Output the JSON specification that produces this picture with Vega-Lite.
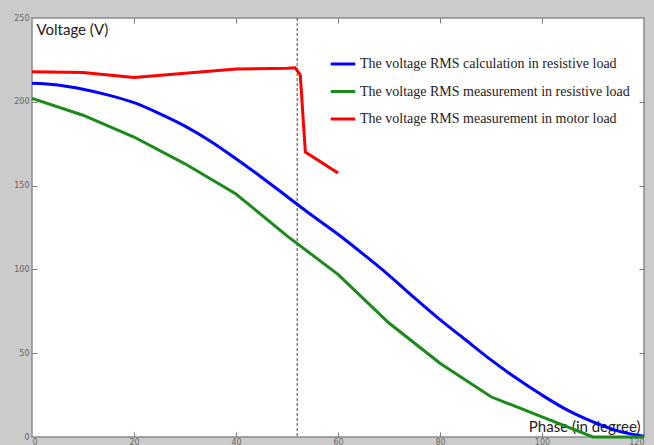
{
  "$schema": "https://vega.github.io/schema/vega-lite/v6.json",
  "width": 612,
  "height": 419,
  "autosize": {"type": "none"},
  "padding": {"left": 32, "top": 18, "right": 10, "bottom": 8},
  "background": "#cbcbcb",
  "config": {
    "view": {"fill": "white", "stroke": "#8a8a8a", "strokeWidth": 1.5},
    "axis": {"grid": false, "domain": false, "labelFont": "DejaVu Sans", "labelFontSize": 8, "labelColor": "#666666", "tickColor": "#7a7a7a", "tickSize": 5, "tickWidth": 1}
  },
  "datasets": {
    "series": [
      {"phase": 0, "voltage": 211, "series": "The voltage RMS calculation in resistive load"},
      {"phase": 5, "voltage": 210, "series": "The voltage RMS calculation in resistive load"},
      {"phase": 10, "voltage": 207.5, "series": "The voltage RMS calculation in resistive load"},
      {"phase": 15, "voltage": 204, "series": "The voltage RMS calculation in resistive load"},
      {"phase": 20, "voltage": 199.5, "series": "The voltage RMS calculation in resistive load"},
      {"phase": 25, "voltage": 193, "series": "The voltage RMS calculation in resistive load"},
      {"phase": 30, "voltage": 185.5, "series": "The voltage RMS calculation in resistive load"},
      {"phase": 35, "voltage": 176.5, "series": "The voltage RMS calculation in resistive load"},
      {"phase": 40, "voltage": 166, "series": "The voltage RMS calculation in resistive load"},
      {"phase": 45, "voltage": 155, "series": "The voltage RMS calculation in resistive load"},
      {"phase": 50, "voltage": 143.5, "series": "The voltage RMS calculation in resistive load"},
      {"phase": 55, "voltage": 132, "series": "The voltage RMS calculation in resistive load"},
      {"phase": 60, "voltage": 121, "series": "The voltage RMS calculation in resistive load"},
      {"phase": 65, "voltage": 109, "series": "The voltage RMS calculation in resistive load"},
      {"phase": 70, "voltage": 96.5, "series": "The voltage RMS calculation in resistive load"},
      {"phase": 75, "voltage": 83, "series": "The voltage RMS calculation in resistive load"},
      {"phase": 80, "voltage": 70, "series": "The voltage RMS calculation in resistive load"},
      {"phase": 85, "voltage": 58, "series": "The voltage RMS calculation in resistive load"},
      {"phase": 90, "voltage": 46, "series": "The voltage RMS calculation in resistive load"},
      {"phase": 95, "voltage": 35, "series": "The voltage RMS calculation in resistive load"},
      {"phase": 100, "voltage": 25, "series": "The voltage RMS calculation in resistive load"},
      {"phase": 105, "voltage": 16, "series": "The voltage RMS calculation in resistive load"},
      {"phase": 110, "voltage": 9, "series": "The voltage RMS calculation in resistive load"},
      {"phase": 115, "voltage": 3.5, "series": "The voltage RMS calculation in resistive load"},
      {"phase": 120, "voltage": 0.5, "series": "The voltage RMS calculation in resistive load"},
      {"phase": 0, "voltage": 202, "series": "The voltage RMS measurement in resistive load"},
      {"phase": 10, "voltage": 192, "series": "The voltage RMS measurement in resistive load"},
      {"phase": 20, "voltage": 179, "series": "The voltage RMS measurement in resistive load"},
      {"phase": 30, "voltage": 163, "series": "The voltage RMS measurement in resistive load"},
      {"phase": 40, "voltage": 145, "series": "The voltage RMS measurement in resistive load"},
      {"phase": 50, "voltage": 120, "series": "The voltage RMS measurement in resistive load"},
      {"phase": 60, "voltage": 97, "series": "The voltage RMS measurement in resistive load"},
      {"phase": 70, "voltage": 68, "series": "The voltage RMS measurement in resistive load"},
      {"phase": 80, "voltage": 44, "series": "The voltage RMS measurement in resistive load"},
      {"phase": 90, "voltage": 24, "series": "The voltage RMS measurement in resistive load"},
      {"phase": 100, "voltage": 12, "series": "The voltage RMS measurement in resistive load"},
      {"phase": 110, "voltage": 0, "series": "The voltage RMS measurement in resistive load"},
      {"phase": 120, "voltage": 0, "series": "The voltage RMS measurement in resistive load"},
      {"phase": 0, "voltage": 218, "series": "The voltage RMS measurement in motor load"},
      {"phase": 10, "voltage": 217.5, "series": "The voltage RMS measurement in motor load"},
      {"phase": 20, "voltage": 214.5, "series": "The voltage RMS measurement in motor load"},
      {"phase": 30, "voltage": 217, "series": "The voltage RMS measurement in motor load"},
      {"phase": 40, "voltage": 219.5, "series": "The voltage RMS measurement in motor load"},
      {"phase": 50, "voltage": 220, "series": "The voltage RMS measurement in motor load"},
      {"phase": 51.6, "voltage": 220.3, "series": "The voltage RMS measurement in motor load"},
      {"phase": 52.6, "voltage": 216, "series": "The voltage RMS measurement in motor load"},
      {"phase": 53.6, "voltage": 170, "series": "The voltage RMS measurement in motor load"},
      {"phase": 60, "voltage": 157.5, "series": "The voltage RMS measurement in motor load"}
    ],
    "marker": [{"phase": 52}]
  },
  "resolve": {"axis": {"x": "independent", "y": "independent"}},
  "layer": [
    {
      "data": {"name": "marker"},
      "mark": {"type": "rule", "color": "#444444", "strokeDash": [3, 2], "strokeWidth": 1},
      "encoding": {
        "x": {"field": "phase", "type": "quantitative", "scale": {"domain": [0, 120], "nice": false}, "axis": null}
      }
    },
    {
      "data": {"name": "series"},
      "transform": [{"filter": "datum.series === 'The voltage RMS calculation in resistive load'"}],
      "mark": {"type": "line", "strokeWidth": 3, "interpolate": "monotone"},
      "encoding": {
        "x": {"field": "phase", "type": "quantitative", "scale": {"domain": [0, 120], "nice": false},
          "axis": {"values": [0, 20, 40, 60, 80, 100, 120], "ticks": false, "labelPadding": 1, "title": "Phase (in degree)", "titleFont": "Lato", "titleFontSize": 15, "titleFontWeight": "normal", "titleColor": "#222222", "titleAnchor": "end", "titleAlign": "right", "titleX": 608, "titleY": -6, "titleBaseline": "alphabetic"}},
        "y": {"field": "voltage", "type": "quantitative", "scale": {"domain": [0, 250], "nice": false},
          "axis": {"values": [0, 50, 100, 150, 200, 250], "ticks": false, "labelPadding": 3, "title": "Voltage (V)", "titleFont": "Lato", "titleFontSize": 15, "titleFontWeight": "normal", "titleColor": "#222222", "titleAngle": 0, "titleAlign": "left", "titleAnchor": "start", "titleX": 4, "titleY": 4, "titleBaseline": "top"}},
        "color": {"field": "series", "type": "nominal",
          "scale": {"domain": ["The voltage RMS calculation in resistive load", "The voltage RMS measurement in resistive load", "The voltage RMS measurement in motor load"], "range": ["#0000ff", "#1b8a1b", "#ff0000"]},
          "legend": {"title": null, "orient": "none", "legendX": 297, "legendY": 32, "symbolType": "stroke", "symbolSize": 600, "symbolStrokeWidth": 3, "labelFont": "Liberation Serif", "labelFontSize": 14, "labelColor": "#222222", "labelOffset": 3, "rowPadding": 6.5, "labelLimit": 400}}
      }
    },
    {
      "data": {"name": "series"},
      "transform": [{"filter": "datum.series === 'The voltage RMS measurement in resistive load'"}],
      "mark": {"type": "line", "strokeWidth": 3},
      "encoding": {
        "x": {"field": "phase", "type": "quantitative", "scale": {"domain": [0, 120], "nice": false},
          "axis": {"orient": "top", "offset": -419, "values": [20, 40, 60, 80, 100], "labels": false, "title": null}},
        "y": {"field": "voltage", "type": "quantitative", "scale": {"domain": [0, 250], "nice": false},
          "axis": {"orient": "right", "offset": -612, "values": [50, 100, 150, 200], "labels": false, "title": null}},
        "color": {"field": "series", "type": "nominal"}
      }
    },
    {
      "data": {"name": "series"},
      "transform": [{"filter": "datum.series === 'The voltage RMS measurement in motor load'"}],
      "mark": {"type": "line", "strokeWidth": 3},
      "encoding": {
        "x": {"field": "phase", "type": "quantitative", "scale": {"domain": [0, 120], "nice": false},
          "axis": {"orient": "bottom", "offset": -419, "values": [20, 40, 60, 80, 100], "labels": false, "title": null}},
        "y": {"field": "voltage", "type": "quantitative", "scale": {"domain": [0, 250], "nice": false},
          "axis": {"orient": "left", "offset": -612, "values": [50, 100, 150, 200], "labels": false, "title": null}},
        "color": {"field": "series", "type": "nominal"}
      }
    }
  ]
}
